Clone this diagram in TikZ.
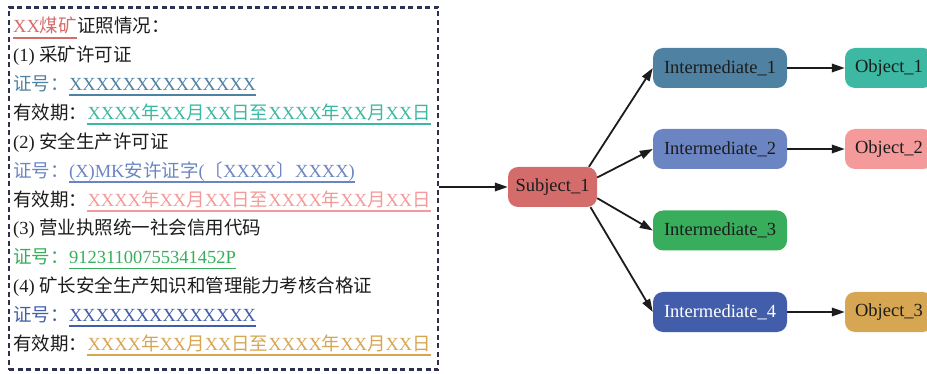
\documentclass[tikz,border=0pt]{standalone}
\usepackage{fontspec}
\setmainfont{Liberation Serif}
\newfontfamily\cjk{Noto Sans CJK SC}
\usetikzlibrary{arrows.meta}

\definecolor{ink}{HTML}{1C1C1C}
\definecolor{framec}{HTML}{2E3052}
\definecolor{cS}{HTML}{D46C6C}
\definecolor{cIa}{HTML}{4F82A2}
\definecolor{cOa}{HTML}{3CB8A3}
\definecolor{cIb}{HTML}{6B85C3}
\definecolor{cOb}{HTML}{F49A9A}
\definecolor{cIc}{HTML}{38AE5D}
\definecolor{cId}{HTML}{425EAA}
\definecolor{cOc}{HTML}{D6A653}

\tikzset{
  txt/.style={inner sep=0pt, anchor=base west, font=\fontsize{18.5}{22}\selectfont, text=ink},
  uline/.style={line width=1.8pt},
  gbox/.style={rounded corners=10pt, inner sep=0pt, minimum height=40pt,
               font=\fontsize{18.5}{22}\selectfont, text=ink},
  subj/.style={gbox, minimum width=89pt},
  inter/.style={gbox, minimum width=134pt},
  obj/.style={gbox, minimum width=88pt},
  arr/.style={-{Triangle[length=13pt,width=8.5pt]}, line width=1.8pt, draw=ink},
  frame/.style={draw=framec, line width=2.3pt, dash pattern=on 5pt off 3.5pt,
                inner sep=0pt, minimum width=429pt, minimum height=362pt},
}

\begin{document}
\begin{tikzpicture}[x=1pt,y=1pt]
\clip (0,0) rectangle (927,-374);

% dashed frame around the certificate list
\node[frame] (frame) at (223.5,-188.5) {};

% line 1
\node[txt, text=cS] (v1) at (13,-33) {XX{\cjk 煤矿}};
\node[txt] (l1) at (v1.base east) {\cjk 证照情况：};
\draw[uline, cS] ([yshift=-4.7pt]v1.base west) -- ([yshift=-4.7pt]v1.base east);

% (1) mining permit
\node[txt] (l2) at (13,-61.85) {(1) {\cjk 采矿许可证}};
\node[txt, text=cIa] (l3) at (13,-90.7) {\cjk 证号：};
\node[txt, text=cIa] (v3) at (l3.base east) {XXXXXXXXXXXXXX};
\draw[uline, cIa] ([yshift=-4.7pt]v3.base west) -- ([yshift=-4.7pt]v3.base east);
\node[txt] (l4) at (13,-119.55) {\cjk 有效期：};
\node[txt, text=cOa] (v4) at (l4.base east) {XXXX{\cjk 年}XX{\cjk 月}XX{\cjk 日至}XXXX{\cjk 年}XX{\cjk 月}XX{\cjk 日}};
\draw[uline, cOa] ([yshift=-4.7pt]v4.base west) -- ([yshift=-4.7pt]v4.base east);

% (2) safety production permit
\node[txt] (l5) at (13,-148.4) {(2) {\cjk 安全生产许可证}};
\node[txt, text=cIb] (l6) at (13,-177.25) {\cjk 证号：};
\node[txt, text=cIb] (v6) at (l6.base east) {(X)MK{\cjk 安许证字}({\cjk 〔}XXXX{\cjk 〕}XXXX)};
\draw[uline, cIb] ([yshift=-4.7pt]v6.base west) -- ([yshift=-4.7pt]v6.base east);
\node[txt] (l7) at (13,-206.1) {\cjk 有效期：};
\node[txt, text=cOb] (v7) at (l7.base east) {XXXX{\cjk 年}XX{\cjk 月}XX{\cjk 日至}XXXX{\cjk 年}XX{\cjk 月}XX{\cjk 日}};
\draw[uline, cOb] ([yshift=-4.7pt]v7.base west) -- ([yshift=-4.7pt]v7.base east);

% (3) business licence
\node[txt] (l8) at (13,-234.95) {(3) {\cjk 营业执照统一社会信用代码}};
\node[txt, text=cIc] (l9) at (13,-263.8) {\cjk 证号：};
\node[txt, text=cIc] (v9) at (l9.base east) {91231100755341452P};
\draw[uline, cIc] ([yshift=-4.7pt]v9.base west) -- ([yshift=-4.7pt]v9.base east);

% (4) mine manager certificate
\node[txt] (l10) at (13,-292.65) {(4) {\cjk 矿长安全生产知识和管理能力考核合格证}};
\node[txt, text=cId] (l11) at (13,-321.5) {\cjk 证号：};
\node[txt, text=cId] (v11) at (l11.base east) {XXXXXXXXXXXXXX};
\draw[uline, cId] ([yshift=-4.7pt]v11.base west) -- ([yshift=-4.7pt]v11.base east);
\node[txt] (l12) at (13,-350.35) {\cjk 有效期：};
\node[txt, text=cOc] (v12) at (l12.base east) {XXXX{\cjk 年}XX{\cjk 月}XX{\cjk 日至}XXXX{\cjk 年}XX{\cjk 月}XX{\cjk 日}};
\draw[uline, cOc] ([yshift=-4.7pt]v12.base west) -- ([yshift=-4.7pt]v12.base east);

% graph
\node[subj, fill=cS] (S) at (552.5,-187) {Subject\_1};
\node[inter, fill=cIa] (I1) at (720,-68) {Intermediate\_1};
\node[inter, fill=cIb] (I2) at (720,-149) {Intermediate\_2};
\node[inter, fill=cIc] (I3) at (720,-230.5) {Intermediate\_3};
\node[inter, fill=cId, text=white] (I4) at (720,-312) {Intermediate\_4};
\node[obj, fill=cOa] (O1) at (889,-68) {Object\_1};
\node[obj, fill=cOb] (O2) at (889,-149) {Object\_2};
\node[obj, fill=cOc] (O3) at (889,-312) {Object\_3};

\draw[arr] (frame.east |- S.west) -- (S.west);
\draw[arr] (S.29.7) -- (I1.west);
\draw[arr] (S.12.5) -- (I2.west);
\draw[arr] (S.-14) -- (I3.west);
\draw[arr] (S.-28) -- (I4.west);
\draw[arr] (I1.east) -- (O1.west);
\draw[arr] (I2.east) -- (O2.west);
\draw[arr] (I4.east) -- (O3.west);
\end{tikzpicture}
\end{document}
